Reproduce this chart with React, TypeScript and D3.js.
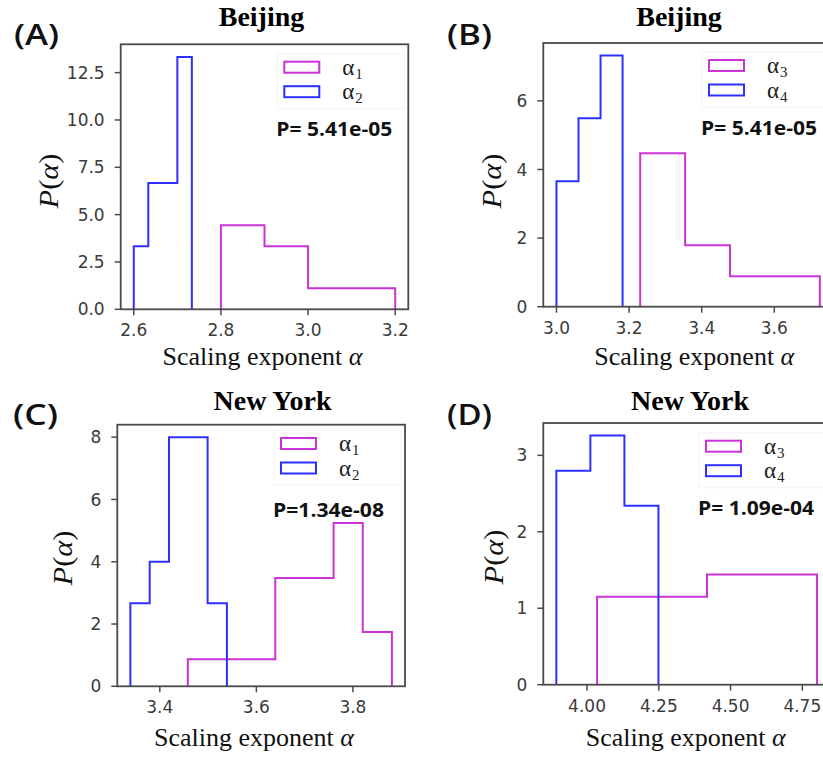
import React from "react";
import * as d3 from "d3";

// ---------- DATA ----------
const panelLabels = ["(A)", "(B)", "(C)", "(D)"];
const cityTitles = ["Beijing", "Beijing", "New York", "New York"];
const pTexts = ["P= 5.41e-05", "P= 5.41e-05", "P=1.34e-08", "P= 1.09e-04"];
const legendSubs = [["1", "2"], ["3", "4"], ["1", "2"], ["3", "4"]];

// Panel A (Beijing, alpha1 magenta / alpha2 blue)
const aMagentaEdges = [2.8, 2.9, 3.0, 3.1, 3.2];
const aMagentaHeights = [4.44, 3.33, 1.11, 1.11];
const aBlueEdges = [2.6, 2.6333, 2.6667, 2.7, 2.7333];
const aBlueHeights = [3.33, 6.67, 6.67, 13.33];

// Panel B (Beijing, alpha3 magenta / alpha4 blue)
const bMagentaEdges = [3.2306, 3.3543, 3.478, 3.6017, 3.7254];
const bMagentaHeights = [4.47, 1.79, 0.89, 0.89];
const bBlueEdges = [3.0, 3.0607, 3.1214, 3.1821];
const bBlueHeights = [3.66, 5.49, 7.32];

// Panel C (New York, alpha1 magenta / alpha2 blue)
const cMagentaEdges = [3.458, 3.5184, 3.5788, 3.6392, 3.6996, 3.76, 3.8204, 3.8808];
const cMagentaHeights = [0.87, 0.87, 0.87, 3.48, 3.48, 5.24, 1.74];
const cBlueEdges = [3.339, 3.379, 3.419, 3.459, 3.499, 3.539];
const cBlueHeights = [2.67, 4.0, 8.0, 8.0, 2.67];

// Panel D (New York, alpha3 magenta / alpha4 blue)
const dMagentaEdges = [4.035, 4.2265, 4.418, 4.6095, 4.801];
const dMagentaHeights = [1.15, 1.15, 1.44, 1.44];
const dBlueEdges = [3.893, 4.0116, 4.1302, 4.2488];
const dBlueHeights = [2.8, 3.26, 2.34];

// Tick values
const xTicksA = [2.6, 2.8, 3.0, 3.2];
const yTicksA = [0, 2.5, 5, 7.5, 10, 12.5];
const xTicksB = [3.0, 3.2, 3.4, 3.6];
const yTicksB = [0, 2, 4, 6];
const xTicksC = [3.4, 3.6, 3.8];
const yTicksC = [0, 2, 4, 6, 8];
const xTicksD = [4.0, 4.25, 4.5, 4.75];
const yTicksD = [0, 1, 2, 3];

// ---------- LAYOUT / STYLE ----------
const MAGENTA = "#cc33d6";
const BLUE = "#2f2fff";
const SPINE = "#4a4a4a";
const TICKTXT = "#3a3a3a";

type PanelCfg = {
  idx: number;
  magEdges: number[]; magHeights: number[];
  blueEdges: number[]; blueHeights: number[];
  xTicks: number[]; yTicks: number[];
  xFmt: string; yFmt: string;
  left: number; top: number; bottom: number; right: number;
  labelX: number; labelY: number;
  titleX: number; titleY: number;
  yLabX: number; yLabY: number;
  xLabX: number; xLabY: number;
  legDy: number;
};

const panels: PanelCfg[] = [
  {
    idx: 0, magEdges: aMagentaEdges, magHeights: aMagentaHeights, blueEdges: aBlueEdges, blueHeights: aBlueHeights,
    xTicks: xTicksA, yTicks: yTicksA, xFmt: ".1f", yFmt: ".1f",
    left: 120.7, top: 44.3, bottom: 309.3, right: 408.3,
    labelX: 14, labelY: 45, titleX: 261.5, titleY: 26,
    yLabX: 49, yLabY: 181, xLabX: 262.5, xLabY: 365, legDy: 17.4,
  },
  {
    idx: 1, magEdges: bMagentaEdges, magHeights: bMagentaHeights, blueEdges: bBlueEdges, blueHeights: bBlueHeights,
    xTicks: xTicksB, yTicks: yTicksB, xFmt: ".1f", yFmt: "d",
    left: 543.3, top: 43, bottom: 306.7, right: 833,
    labelX: 447, labelY: 45, titleX: 679, titleY: 26,
    yLabX: 491.5, yLabY: 181, xLabX: 694.3, xLabY: 365, legDy: 17,
  },
  {
    idx: 2, magEdges: cMagentaEdges, magHeights: cMagentaHeights, blueEdges: cBlueEdges, blueHeights: cBlueHeights,
    xTicks: xTicksC, yTicks: yTicksC, xFmt: ".1f", yFmt: "d",
    left: 117.3, top: 424.7, bottom: 686.3, right: 405,
    labelX: 13, labelY: 424.7, titleX: 272.5, titleY: 410,
    yLabX: 62.5, yLabY: 558, xLabX: 254, xLabY: 745.7, legDy: 13.3,
  },
  {
    idx: 3, magEdges: dMagentaEdges, magHeights: dMagentaHeights, blueEdges: dBlueEdges, blueHeights: dBlueHeights,
    xTicks: xTicksD, yTicks: yTicksD, xFmt: ".2f", yFmt: "d",
    left: 543.3, top: 423, bottom: 684.7, right: 830,
    labelX: 447, labelY: 424.7, titleX: 690, titleY: 410,
    yLabX: 494, yLabY: 557, xLabX: 685.7, xLabY: 745.7, legDy: 17.7,
  },
];

function stepPoints(edges: number[], heights: number[]): [number, number][] {
  const pts: [number, number][] = [[edges[0], 0]];
  heights.forEach((h, i) => {
    pts.push([edges[i], h]);
    pts.push([edges[i + 1], h]);
  });
  pts.push([edges[edges.length - 1], 0]);
  return pts;
}

function Panel({ cfg }: { cfg: PanelCfg }) {
  const allX = [...cfg.magEdges, ...cfg.blueEdges];
  const xmin = d3.min(allX) as number;
  const xmax = d3.max(allX) as number;
  const m = (xmax - xmin) * 0.05;
  const ymax = (d3.max([...cfg.magHeights, ...cfg.blueHeights]) as number) * 1.05;
  const x = d3.scaleLinear().domain([xmin - m, xmax + m]).range([cfg.left, cfg.right]);
  const y = d3.scaleLinear().domain([0, ymax]).range([cfg.bottom, cfg.top]);
  const line = d3.line<[number, number]>().x((d) => x(d[0])).y((d) => y(d[1]));
  const xf = d3.format(cfg.xFmt);
  const yf = d3.format(cfg.yFmt);

  const legX = cfg.right - 124;
  const legY1 = cfg.top + cfg.legDy;
  const legY2 = legY1 + 24.5;
  const subs = legendSubs[cfg.idx];

  return (
    <g>
      {/* panel label */}
      <text x={cfg.labelX} y={cfg.labelY} fontFamily="'Open Sans', sans-serif" fontWeight={600}
        fontSize={28} textLength={45} lengthAdjust="spacingAndGlyphs" fill="#111">{panelLabels[cfg.idx]}</text>
      {/* title */}
      <text x={cfg.titleX} y={cfg.titleY} textAnchor="middle" fontFamily="'Liberation Serif', 'Times New Roman', serif"
        fontWeight="bold" fontSize={28} fill="#000">{cityTitles[cfg.idx]}</text>

      {/* histograms */}
      <path d={line(stepPoints(cfg.magEdges, cfg.magHeights)) || ""} fill="none" stroke={MAGENTA} strokeWidth={2} />
      <path d={line(stepPoints(cfg.blueEdges, cfg.blueHeights)) || ""} fill="none" stroke={BLUE} strokeWidth={2} />

      {/* legend */}
      <rect x={legX - 7} y={legY1 - 8} width={cfg.right - legX + 3} height={55} fill="white" fillOpacity={0.8}
        stroke="#f3f3f3" strokeWidth={1} />
      <rect x={legX} y={legY1} width={35} height={11} fill="none" stroke={MAGENTA} strokeWidth={2} />
      <rect x={legX} y={legY2} width={35} height={11} fill="none" stroke={BLUE} strokeWidth={2} />
      {[legY1, legY2].map((ly, i) => (
        <text key={i} x={legX + 58} y={ly + 13} fontFamily="'Liberation Serif', serif" fontSize={23} fill="#222">
          α<tspan fontSize={15} dy={4} dx={1}>{subs[i]}</tspan>
        </text>
      ))}
      <text x={cfg.right - 132} y={cfg.top + 92} fontFamily="'Open Sans', sans-serif" fontWeight="bold" fontSize={19}
        textLength={cfg.idx === 2 ? 111 : 116} lengthAdjust="spacingAndGlyphs" fill="#111">{pTexts[cfg.idx]}</text>

      {/* frame */}
      <rect x={cfg.left} y={cfg.top} width={cfg.right - cfg.left} height={cfg.bottom - cfg.top} fill="none"
        stroke={SPINE} strokeWidth={1.8} />

      {/* y ticks */}
      {cfg.yTicks.map((t) => (
        <g key={"y" + t}>
          <line x1={cfg.left - 6} x2={cfg.left} y1={y(t)} y2={y(t)} stroke={SPINE} strokeWidth={1.5} />
          <text x={cfg.left - 16} y={y(t)} dy="0.36em" textAnchor="end" fontFamily="'DejaVu Sans', sans-serif"
            fontSize={17} fill={TICKTXT}>{yf(t)}</text>
        </g>
      ))}
      {/* x ticks */}
      {cfg.xTicks.map((t) => (
        <g key={"x" + t}>
          <line x1={x(t)} x2={x(t)} y1={cfg.bottom} y2={cfg.bottom + 6} stroke={SPINE} strokeWidth={1.5} />
          <text x={x(t)} y={cfg.bottom + 27} textAnchor="middle" fontFamily="'DejaVu Sans', sans-serif"
            fontSize={17} fill={TICKTXT}>{xf(t)}</text>
        </g>
      ))}

      {/* axis labels */}
      <text x={cfg.xLabX} y={cfg.xLabY} textAnchor="middle" fontFamily="'Liberation Serif', 'Times New Roman', serif"
        fontSize={26} fill="#111">Scaling exponent <tspan fontStyle="italic">α</tspan></text>
      <text transform={`translate(${cfg.yLabX},${cfg.yLabY}) rotate(-90)`} textAnchor="middle" dy="0.33em"
        fontFamily="'Liberation Serif', 'Times New Roman', serif" fontSize={28} fill="#111"
        textLength={55} lengthAdjust="spacingAndGlyphs">
        <tspan fontStyle="italic">P</tspan>(<tspan fontStyle="italic">α</tspan>)
      </text>
    </g>
  );
}

export default function App() {
  return (
    <svg width={823} height={758} style={{ position: "absolute", left: 0, top: 0, background: "white" }}>
      <rect width={823} height={758} fill="white" />
      {panels.map((p) => (
        <Panel key={p.idx} cfg={p} />
      ))}
    </svg>
  );
}
